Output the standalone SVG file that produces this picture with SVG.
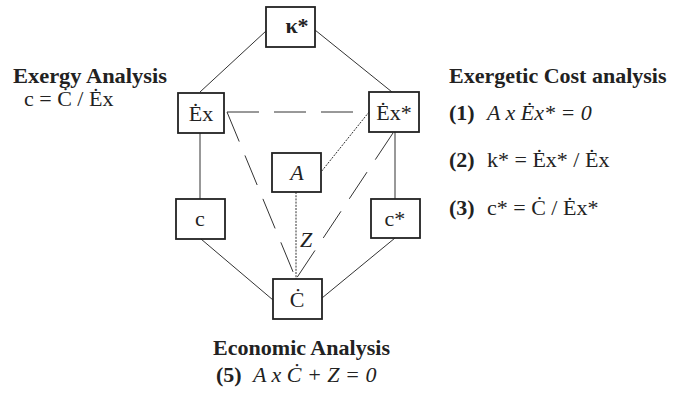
<svg xmlns="http://www.w3.org/2000/svg" width="683" height="397" viewBox="0 0 683 397">
<style>
.box{fill:#fff;stroke:#222;stroke-width:1.8}
.t{font-family:"Liberation Serif","Times New Roman",serif;font-size:22px;fill:#222}
.b{font-weight:bold}
.i{font-style:italic}
.solid{stroke:#333;stroke-width:1;fill:none}
.dash{stroke:#333;stroke-width:1;fill:none;stroke-dasharray:32 15}
.dot{stroke:#333;stroke-width:1;fill:none;stroke-dasharray:2 1.2}
</style>
<rect width="683" height="397" fill="#fff"/>
<g id="connectors">
<line class="solid" x1="266" y1="31" x2="200" y2="92"/>
<line class="solid" x1="315" y1="30" x2="392" y2="92"/>
<line class="solid" x1="200" y1="133" x2="200" y2="199"/>
<line class="solid" x1="395" y1="132" x2="395" y2="199"/>
<line class="solid" x1="201" y1="239" x2="273" y2="300"/>
<line class="solid" x1="395" y1="238" x2="322" y2="298"/>
<line class="dash" x1="227" y1="112" x2="368" y2="112"/>
<line class="dash" stroke-dasharray="40 12" x1="227" y1="112" x2="296" y2="279"/>
<line class="dash" stroke-dasharray="40 12" x1="393" y1="133" x2="296" y2="279"/>
<line class="dot" x1="369" y1="112" x2="321" y2="172"/>
<line class="dot" x1="296" y1="192" x2="296" y2="279"/>
</g>
<g id="kappa"><rect class="box" x="266" y="7" width="49" height="40"/><text class="t b" x="297" y="33" text-anchor="middle">κ*</text></g>
<g id="Ex"><rect class="box" x="178" y="93" width="46" height="40"/><text class="t" x="201" y="121" text-anchor="middle">Ėx</text></g>
<g id="ExStar"><rect class="box" x="369" y="92" width="50" height="40"/><text class="t" x="394" y="120" text-anchor="middle">Ėx*</text></g>
<g id="A"><rect class="box" x="272" y="153" width="49" height="39"/><text class="t i" x="297" y="180" text-anchor="middle">A</text></g>
<g id="c"><rect class="box" x="176" y="199" width="49" height="40"/><text class="t" x="200" y="226" text-anchor="middle">c</text></g>
<g id="cStar"><rect class="box" x="371" y="199" width="49" height="39"/><text class="t" x="395" y="226" text-anchor="middle">c*</text></g>
<g id="C"><rect class="box" x="273" y="279" width="49" height="40"/><text class="t" x="297" y="307" text-anchor="middle">Ċ</text></g>
<text class="t i" x="300" y="247">Z</text>
<g id="labels">
<text class="t b" x="13" y="83" textLength="154" lengthAdjust="spacingAndGlyphs">Exergy Analysis</text>
<text class="t" x="24" y="106">c = Ċ / Ėx</text>
<text class="t b" x="449" y="83">Exergetic Cost analysis</text>
<text class="t" x="449" y="120"><tspan class="b">(1)</tspan><tspan class="i" x="487">A x Ėx*  = 0</tspan></text>
<text class="t" x="449" y="167"><tspan class="b">(2)</tspan><tspan x="487">k* = Ėx* /  Ėx</tspan></text>
<text class="t" x="449" y="215"><tspan class="b">(3)</tspan><tspan x="487">c* = Ċ / Ėx*</tspan></text>
<text class="t b" x="213" y="355" textLength="177" lengthAdjust="spacingAndGlyphs">Economic Analysis</text>
<text class="t" x="216" y="382"><tspan class="b">(5)</tspan><tspan class="i" x="253">A x Ċ + Z = 0</tspan></text>
</g>
</svg>
